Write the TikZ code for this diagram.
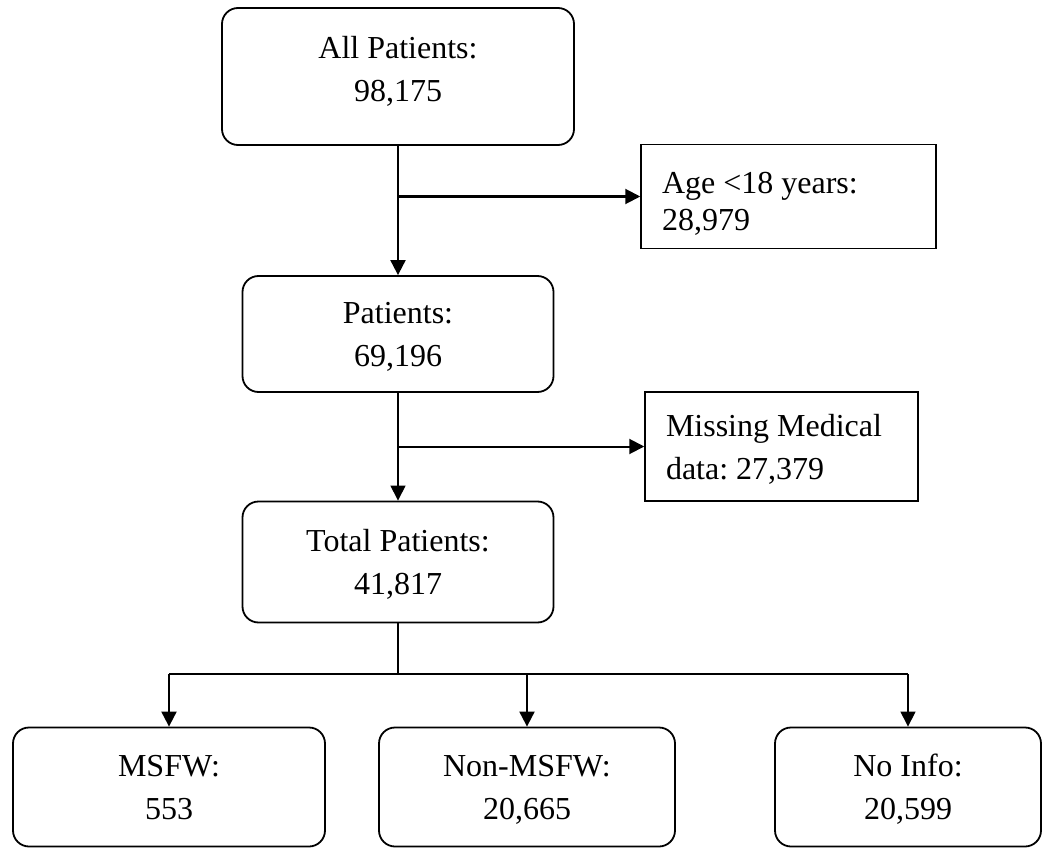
\documentclass[tikz,border=0pt]{standalone}
\usepackage{fontspec}
\setmainfont{Liberation Serif}
\usetikzlibrary{arrows.meta}
\frenchspacing
% two lines, with a fixed height above the first and depth below the second
\newcommand{\twolines}[4]{\rule{0pt}{#3}#1\\#2\rule[-#4]{0pt}{#4}}

\begin{document}
\begin{tikzpicture}
      [x=1pt,y=-1pt,%%%%%%%%%%%%%%%%%%%%%%%%%%%%%%
      stage/.style={rectangle,draw=black,line width=1.8pt,rounded corners=16pt,
        align=center,font=\fontsize{32}{43}\selectfont,inner sep=0pt},
      excl/.style={rectangle,draw=black,line width=1.5pt,align=flush left,
        inner xsep=21pt,inner ysep=0pt,font=\fontsize{32}{43}\selectfont},
      thinline/.style={line width=1.1pt},
      thickline/.style={line width=2pt},
      tip/.style={-{Triangle[length=15pt,width=15pt]}},
      ]%%%%%%%%%%%%%%%%%%%%%%%%%%%%%%
      \useasboundingbox (0,0) rectangle (1050,848);

      \node[stage,minimum width=352pt,minimum height=137pt] (all) at (398,76.5) {\twolines{All Patients:}{98,175}{24pt}{16pt}};
      \node[excl,text width=253pt,minimum height=104pt,font=\fontsize{32}{37}\selectfont] (age) at (788.5,196.5) {\twolines{Age <18 years:}{28,979}{36pt}{0pt}};
      \node[stage,minimum width=311pt,minimum height=116pt] (patients) at (398,334) {\twolines{Patients:}{69,196}{30pt}{8pt}};
      \node[excl,text width=231pt,minimum height=109pt] (missing) at (781.5,446.5) {\twolines{Missing Medical}{data: 27,379}{30pt}{8pt}};
      \node[stage,minimum width=311pt,minimum height=121pt] (total) at (398,562) {\twolines{Total Patients:}{41,817}{30pt}{8pt}};

      \node[stage,minimum width=312pt,minimum height=119pt] (msfw) at (169,787) {\twolines{MSFW:}{553}{30pt}{8pt}};
      \node[stage,minimum width=296pt,minimum height=119pt] (nonmsfw) at (527,787) {\twolines{Non-MSFW:}{20,665}{30pt}{8pt}};
      \node[stage,minimum width=266pt,minimum height=119pt] (noinfo) at (908,787) {\twolines{No Info:}{20,599}{30pt}{8pt}};

      \draw[thickline,tip] (all) -- (patients);
      \draw[thickline,tip] (all.south |- age.west) -- (age.west);
      \draw[thinline,tip] (patients) -- (total);
      \draw[thickline,tip] (patients.south |- missing.west) -- (missing.west);

      \coordinate (split) at (398,674);
      \draw[thinline] (total) -- (split);
      \draw[thickline] (msfw.north |- split) -- (noinfo.north |- split);
      \draw[thickline,tip] (msfw.north |- split) -- (msfw);
      \draw[thickline,tip] (nonmsfw.north |- split) -- (nonmsfw);
      \draw[thinline,tip] (noinfo.north |- split) -- (noinfo);
    \end{tikzpicture}
\end{document}
